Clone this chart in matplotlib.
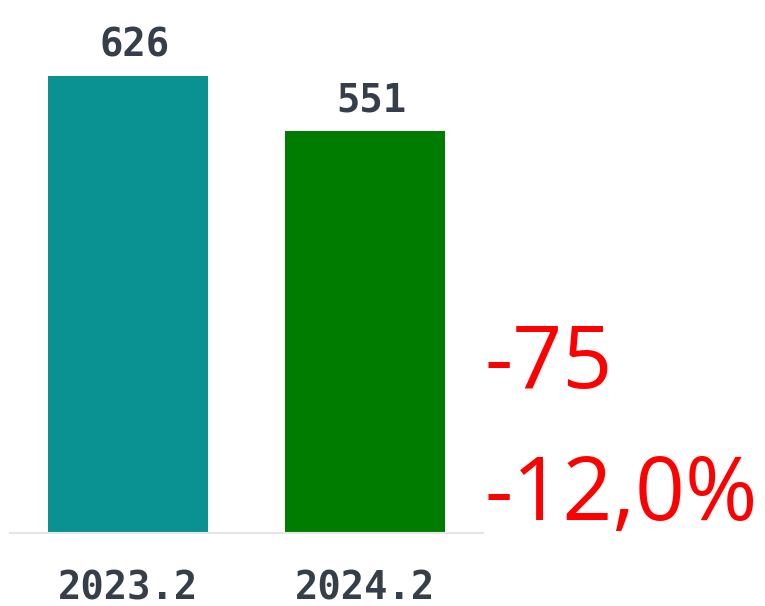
import matplotlib
matplotlib.use("Agg")
import matplotlib.pyplot as plt

periods = ["2023.2", "2024.2"]
values = [626, 551]
bar_colors = ["#0a9192", "#007c00"]
diff_abs = "-75"
diff_pct = "-12,0%"

fig = plt.figure(figsize=(7.65, 6.06), dpi=100)
ax = fig.add_axes([10 / 765, 73 / 606, 473 / 765, 533 / 606])

x = list(range(len(values)))
ax.bar(x, values, width=0.676, color=bar_colors)
# value labels, nudged a bit right like the original
for xi, v in zip(x, values):
    ax.annotate(str(v), (xi, v), xytext=(4.5, 8), textcoords="offset points",
                ha="center", va="bottom", fontsize=28, fontweight="bold",
                family="DejaVu Sans Mono", color="#363e49")

ax.set_xlim(-0.5, 1.5)
ax.set_ylim(0, 730)
ax.set_xticks(x)
ax.set_xticklabels(periods, fontsize=28, fontweight="bold",
                   family="DejaVu Sans Mono", color="#363e49")
ax.tick_params(axis="x", length=0, pad=26)
ax.set_yticks([])
for side in ["top", "left", "right"]:
    ax.spines[side].set_visible(False)
ax.spines["bottom"].set_color("#e6e6e6")
ax.spines["bottom"].set_linewidth(1.5)

fig.text(484 / 765, 1 - 388 / 606, diff_abs, color="#ff0000", fontsize=63,
         family="Open Sans", va="baseline", ha="left")
fig.text(484 / 765, 1 - 520 / 606, diff_pct, color="#ff0000", fontsize=63,
         family="Open Sans", va="baseline", ha="left")

fig.savefig("out.png", dpi=100)
